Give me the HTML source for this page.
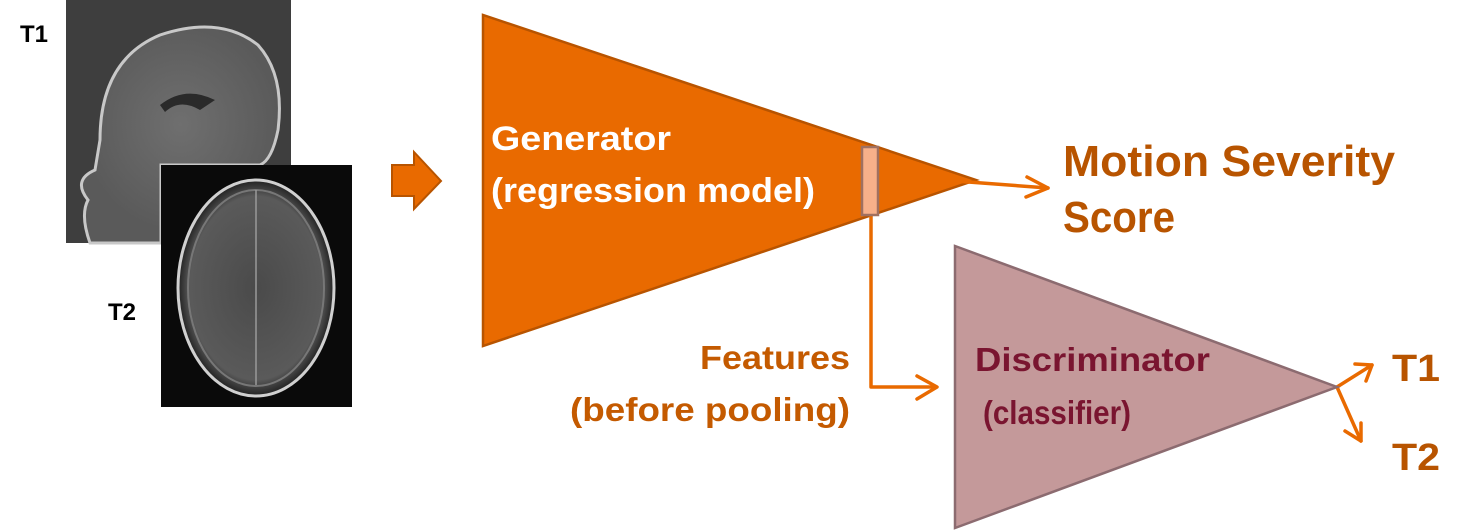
<!DOCTYPE html>
<html><head><meta charset="utf-8"><style>
html,body{margin:0;padding:0;background:#fff;}
svg{display:block;}
text{font-family:"Liberation Sans",sans-serif;font-weight:bold;}
</style></head><body>
<svg width="1473" height="531" viewBox="0 0 1473 531" xmlns="http://www.w3.org/2000/svg">
<defs>
<radialGradient id="g1" cx="0.5" cy="0.45" r="0.5"><stop offset="0" stop-color="#6f6f6f"/><stop offset="1" stop-color="#5a5a5a"/></radialGradient>
<radialGradient id="g2" cx="0.5" cy="0.5" r="0.5"><stop offset="0" stop-color="#4a4a4a"/><stop offset="0.85" stop-color="#5a5a5a"/><stop offset="1" stop-color="#222"/></radialGradient>
</defs>
<!-- T1 image -->
<rect x="66" y="0" width="225" height="243" fill="#3e3e3e"/>
<path d="M100 140 Q100 60 160 35 Q220 15 258 45 Q285 75 278 130 Q272 160 260 165 L161 165 L161 243 L90 243 Q80 215 88 200 Q72 180 95 170 Z" fill="url(#g1)" stroke="#c8c8c8" stroke-width="3"/>
<path d="M160 105 Q185 85 215 100 L200 110 Q180 98 165 112 Z" fill="#2a2a2a"/>
<!-- T2 image -->
<rect x="161" y="165" width="191" height="242" fill="#0a0a0a"/>
<ellipse cx="256" cy="288" rx="78" ry="108" fill="url(#g2)" stroke="#d0d0d0" stroke-width="3"/>
<ellipse cx="256" cy="288" rx="68" ry="98" fill="none" stroke="#777" stroke-width="2"/>
<line x1="256" y1="190" x2="256" y2="385" stroke="#999" stroke-width="1.5"/>
<text x="20" y="42" font-size="24" fill="#000">T1</text>
<text x="108" y="320" font-size="24" fill="#000">T2</text>
<!-- block arrow -->
<polygon points="392,165 414,165 414,152 441,181 414,209 414,196 392,196" fill="#E96A00" stroke="#B85400" stroke-width="2"/>
<!-- generator -->
<polygon points="483,15 483,346 976,180" fill="#E96A00" stroke="#B85400" stroke-width="2.5"/>
<text x="491" y="150" font-size="34" fill="#fff" textLength="180" lengthAdjust="spacingAndGlyphs">Generator</text>
<text x="491" y="202" font-size="34" fill="#fff" textLength="324" lengthAdjust="spacingAndGlyphs">(regression model)</text>
<!-- output arrow -->
<g stroke="#E96A00" stroke-width="3.5" fill="none" stroke-linecap="round" stroke-linejoin="round">
<line x1="955" y1="181" x2="1048" y2="188"/>
<polyline points="1027,177 1048,188 1026,197"/>
<polyline points="871,215 871,387 935,387"/>
<polyline points="917,376 937,387 917,399"/>
<line x1="1337" y1="387" x2="1372" y2="365"/>
<polyline points="1355,364 1372,365 1366,381"/>
<line x1="1337" y1="387" x2="1361" y2="441"/>
<polyline points="1345,431 1361,441 1361,423"/>
</g>
<rect x="862" y="147" width="16" height="68" fill="#F7B08A" stroke="#A07060" stroke-width="2.5"/>
<text x="1063" y="176" font-size="44" fill="#B85400" textLength="332" lengthAdjust="spacingAndGlyphs">Motion Severity</text>
<text x="1063" y="232" font-size="44" fill="#B85400" textLength="112" lengthAdjust="spacingAndGlyphs">Score</text>
<text x="850" y="369" font-size="33" fill="#C45A00" text-anchor="end" textLength="150" lengthAdjust="spacingAndGlyphs">Features</text>
<text x="850" y="421" font-size="33" fill="#C45A00" text-anchor="end" textLength="280" lengthAdjust="spacingAndGlyphs">(before pooling)</text>
<!-- discriminator -->
<polygon points="955,246 955,528 1337,387" fill="#C4999A" stroke="#8C6B70" stroke-width="2.5"/>
<text x="975" y="371" font-size="33" fill="#7A1530" textLength="235" lengthAdjust="spacingAndGlyphs">Discriminator</text>
<text x="983" y="424" font-size="33" fill="#7A1530" textLength="148" lengthAdjust="spacingAndGlyphs">(classifier)</text>
<text x="1392" y="381" font-size="38" fill="#B85400" textLength="48" lengthAdjust="spacingAndGlyphs">T1</text>
<text x="1392" y="470" font-size="38" fill="#B85400" textLength="48" lengthAdjust="spacingAndGlyphs">T2</text>
</svg>
</body></html>
